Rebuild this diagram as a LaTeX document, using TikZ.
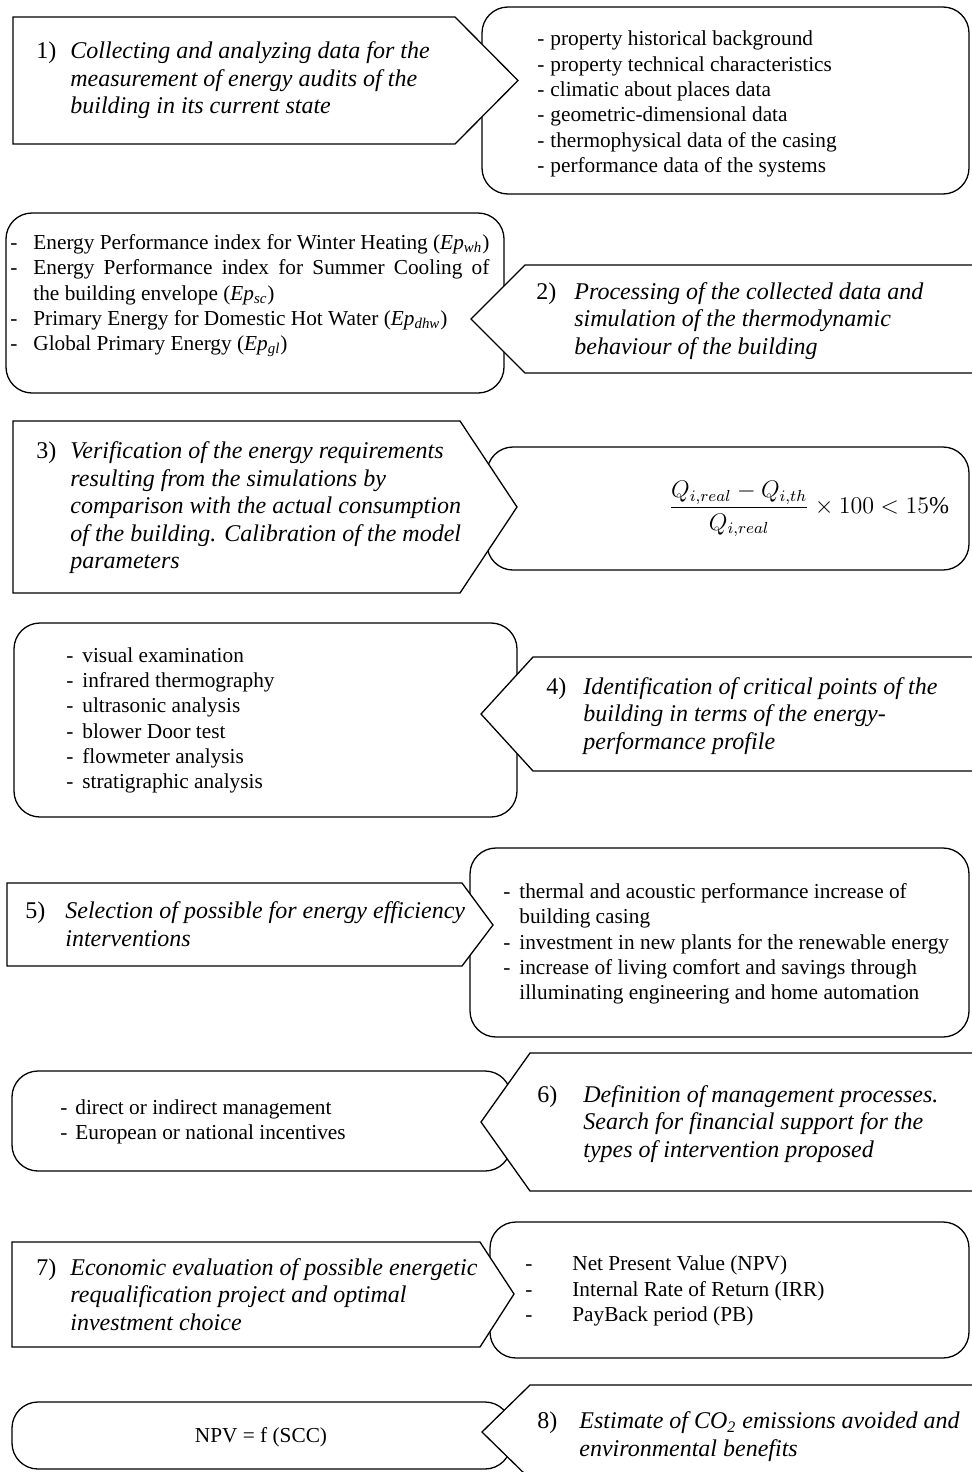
\documentclass[tikz,border=0pt]{standalone}
\usepackage{amsmath}
\usepackage{fontspec}
\setmainfont{Liberation Serif}
\usepackage{array}
\newcommand\ttlsize{\fontsize{12}{13.75}\selectfont}
\newcommand\lstsize{\fontsize{10.65}{12.65}\selectfont}
\tikzset{
  rbox/.style={draw=black, line width=0.65pt, rounded corners=13pt},
  abox/.style={draw=black, fill=white, line width=0.65pt},
  ttl/.style={anchor=west, inner sep=0pt, font=\ttlsize, align=left},
  lst/.style={anchor=west, inner sep=0pt, font=\lstsize, align=left},
}
\begin{document}
\begin{tikzpicture}[x=0.5pt,y=-0.5pt]
\useasboundingbox (0,0) rectangle (972,1472);
\clip (0,0) rectangle (972,1472);
\fill[white] (0,0) rectangle (972,1472);

% ---------- Box 1 ----------
\draw[rbox] (482,7) rectangle (969,194);
\draw[abox] (13,17) -- (455,17) -- (518,80.5) -- (455,144) -- (13,144) -- cycle;
\node[ttl] (t1) at (36,80.5) {\begin{tabular}{@{}p{17pt}@{}l@{}}
1) & \textit{Collecting and analyzing data for the}\\
 & \textit{measurement of energy audits of the}\\
 & \textit{building in its current state}
\end{tabular}};
\node[lst] (l1) at (537,104) {\begin{tabular}{@{}p{6.5pt}@{}l@{}}
- & property historical background\\
- & property technical characteristics\\
- & climatic about places data\\
- & geometric-dimensional data\\
- & thermophysical data of the casing\\
- & performance data of the systems
\end{tabular}};

% ---------- Box 2 ----------
\draw[rbox] (6,213) rectangle (504,393);
\draw[abox] (990,265) -- (525,265) -- (471,319) -- (525,373) -- (990,373) -- cycle;
\node[lst] (l2) at (10,295) {\begin{tabular}{@{}p{11.5pt}@{}l@{}}
- & Energy Performance index for Winter Heating (\textit{Ep}\textsubscript{\textit{wh}})\\
- & \makebox[228pt][s]{Energy Performance index for Summer Cooling of}\\
 & the building envelope (\textit{Ep}\textsubscript{\textit{sc}})\\
- & Primary Energy for Domestic Hot Water (\textit{Ep}\textsubscript{\textit{dhw}})\\
- & Global Primary Energy (\textit{Ep}\textsubscript{\textit{gl}})
\end{tabular}};
\node[ttl] (t2) at (536,321) {\begin{tabular}{@{}p{19pt}@{}l@{}}
2) & \textit{Processing of the collected data and}\\
 & \textit{simulation of the thermodynamic}\\
 & \textit{behaviour of the building}
\end{tabular}};

% ---------- Box 3 ----------
\draw[rbox] (487,447) rectangle (969,570);
\draw[abox] (13,421) -- (460,421) -- (517,507) -- (460,593) -- (13,593) -- cycle;
\node[ttl] (t3) at (36,508) {\begin{tabular}{@{}p{17pt}@{}l@{}}
3) & \textit{Verification of the energy requirements}\\
 & \textit{resulting from the simulations by}\\
 & \textit{comparison with the actual consumption}\\
 & \textit{of the building. Calibration of the model}\\
 & \textit{parameters}
\end{tabular}};
\node[inner sep=0pt, font=\ttlsize] (f3) at (809,509) {$\dfrac{Q_{i,real}-Q_{i,th}}{Q_{i,real}}\times 100<15\%$};

% ---------- Box 4 ----------
\draw[rbox] (14,623) rectangle (517,817);
\draw[abox] (990,657) -- (533,657) -- (481,714) -- (533,771) -- (990,771) -- cycle;
\node[lst] (l4) at (66,720.5) {\begin{tabular}{@{}p{8pt}@{}l@{}}
- & visual examination\\
- & infrared thermography\\
- & ultrasonic analysis\\
- & blower Door test\\
- & flowmeter analysis\\
- & stratigraphic analysis
\end{tabular}};
\node[ttl] (t4) at (546,716) {\begin{tabular}{@{}p{18.5pt}@{}l@{}}
4) & \textit{Identification of critical points of the}\\
 & \textit{building in terms of the energy-}\\
 & \textit{performance profile}
\end{tabular}};

% ---------- Box 5 ----------
\draw[rbox] (470,848) rectangle (969,1037);
\draw[abox] (7,883) -- (462,883) -- (493,925) -- (462,966) -- (7,966) -- cycle;
\node[ttl] (t5) at (25,927) {\begin{tabular}{@{}p{20pt}@{}l@{}}
5) & \textit{Selection of possible for energy efficiency}\\
 & \textit{interventions}
\end{tabular}};
\node[lst] (l5) at (503,944) {\begin{tabular}{@{}p{8pt}@{}l@{}}
- & thermal and acoustic performance increase of\\
 & building casing\\
- & investment in new plants for the renewable energy\\
- & increase of living comfort and savings through\\
 & illuminating engineering and home automation
\end{tabular}};

% ---------- Box 6 ----------
\draw[rbox] (12,1071) rectangle (511,1171);
\draw[abox] (990,1053) -- (530,1053) -- (481,1122) -- (530,1191) -- (990,1191) -- cycle;
\node[lst] (l6) at (60,1122) {\begin{tabular}{@{}p{7.5pt}@{}l@{}}
- & direct or indirect management\\
- & European or national incentives
\end{tabular}};
\node[ttl] (t6) at (537,1124) {\begin{tabular}{@{}p{23pt}@{}l@{}}
6) & \textit{Definition of management processes.}\\
 & \textit{Search for financial support for the}\\
 & \textit{types of intervention proposed}
\end{tabular}};

% ---------- Box 7 ----------
\draw[rbox] (490,1222) rectangle (969,1358);
\draw[abox] (12,1242) -- (480,1242) -- (514,1294) -- (480,1347) -- (12,1347) -- cycle;
\node[ttl] (t7) at (36,1297) {\begin{tabular}{@{}p{17pt}@{}l@{}}
7) & \textit{Economic evaluation of possible energetic}\\
 & \textit{requalification project and optimal}\\
 & \textit{investment choice}
\end{tabular}};
\node[lst] (l7) at (525,1291) {\begin{tabular}{@{}p{23.5pt}@{}l@{}}
- & Net Present Value (NPV)\\
- & Internal Rate of Return (IRR)\\
- & PayBack period (PB)
\end{tabular}};

% ---------- Box 8 ----------
\draw[rbox] (12,1402) rectangle (511,1469);
\draw[abox] (990,1385) -- (530,1385) -- (482,1432) -- (530,1479) -- (990,1479) -- cycle;
\node[inner sep=0pt, font=\lstsize] (n8) at (261,1437) {NPV = f (SCC)};
\node[ttl] (t8) at (537,1437) {\begin{tabular}{@{}p{21pt}@{}l@{}}
8) & \textit{Estimate of CO\textsubscript{2} emissions avoided and}\\
 & \textit{environmental benefits}
\end{tabular}};
\end{tikzpicture}
\end{document}
